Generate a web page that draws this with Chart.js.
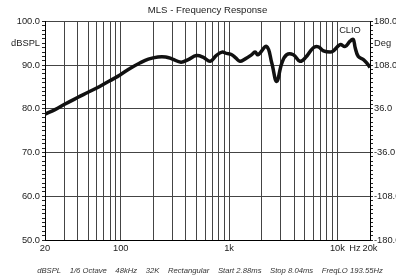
<!DOCTYPE html>
<html>
<head>
<meta charset="utf-8">
<script src="https://cdn.jsdelivr.net/npm/chart.js@4"></script>
<style>
  html, body { margin: 0; padding: 0; background: #fff; }
  #wrap { width: 396px; height: 276px; }
</style>
</head>
<body>
<div id="wrap"><canvas id="fr"></canvas></div>
<script>
// frequency response (Hz, dBSPL)
const freqHz = [20, 25, 30, 40, 50, 60, 70, 80, 90, 100, 125, 150, 180, 220, 260, 300, 360, 420, 500, 580, 670, 760, 860, 950,
  1060, 1160, 1260, 1400, 1600, 1740, 1850, 2220, 2480, 2750, 3070, 3400, 3920, 4520, 5100, 6000, 6680, 7430, 8560, 9190,
  10600, 11800, 13100, 14000, 14600, 15600, 17400, 18700, 20000];
const splDb = [78.8, 79.9, 81.0, 82.6, 83.8, 84.8, 85.7, 86.5, 87.2, 87.9, 89.4, 90.5, 91.4, 91.9, 91.9, 91.4, 90.7, 91.3, 92.2, 91.8, 90.9, 92.2, 93.0, 92.7,
  92.4, 91.6, 90.9, 91.4, 92.3, 93.0, 92.4, 94.3, 90.5, 86.3, 90.5, 92.4, 92.4, 90.9, 91.8, 94.0, 94.2, 93.3, 93.0, 93.3,
  94.7, 94.3, 95.5, 95.9, 94.0, 92.0, 91.3, 90.5, 89.5];

// x axis grid / labels
const xTicks = [20, 30, 40, 50, 60, 70, 80, 90, 100, 200, 300, 400, 500, 600, 700, 800, 900,
  1000, 2000, 3000, 4000, 5000, 6000, 7000, 8000, 9000, 10000, 14500, 20000];
const xLabels = {20: '20', 100: '100', 1000: '1k', 10000: '10k', 14500: 'Hz', 20000: '20k'};

// left (dBSPL) and right (Deg) axis labels, keyed by dB position
const leftLabels = {100: '100.0', 95: 'dBSPL', 90: '90.0', 80: '80.0', 70: '70.0', 60: '60.0', 50: '50.0'};
const rightLabels = {100: '180.0', 95: 'Deg', 90: '108.0', 80: '36.0', 70: '-36.0', 60: '-108.0', 50: '-180.0'};

const titleText = 'MLS - Frequency Response';
const footerText = 'dBSPL    1/6 Octave    48kHz    32K    Rectangular    Start 2.88ms    Stop 8.04ms    FreqLO 193.55Hz';
const brandText = 'CLIO';

const points = freqHz.map((f, i) => ({x: f, y: splDb[i]}));

// CLIO stamp inside the plot + measurement info line under the axis
const textPlugin = {
  id: 'extraText',
  afterDatasetsDraw(chart) {
    const a = chart.chartArea;
    const c = chart.ctx;
    c.save();
    c.font = '9.3px "Liberation Sans", Arial, sans-serif';
    c.fillStyle = '#222';
    c.textAlign = 'center';
    c.textBaseline = 'middle';
    c.fillText(brandText, a.right - 20, a.top + 9);
    c.font = 'italic 7.7px "Liberation Sans", Arial, sans-serif';
    c.fillStyle = '#333';
    c.fillText(footerText, 210, 270.5);
    c.restore();
  }
};

const tickFont = {family: '"Liberation Sans", Arial, sans-serif', size: 9.3};

const yGrid = {
  color: ctx => (ctx.tick && ctx.tick.value % 10 === 0) ? '#444' : 'rgba(0,0,0,0)',
  tickColor: '#222',
  tickLength: 3,
  lineWidth: 1
};

new Chart(document.getElementById('fr'), {
  type: 'line',
  data: {
    datasets: [{
      label: 'SPL',
      data: points,
      borderColor: '#111',
      borderWidth: 3.5,
      pointRadius: 0,
      tension: 0.4,
      fill: false
    }]
  },
  plugins: [textPlugin],
  options: {
    responsive: true,
    maintainAspectRatio: false,
    animation: false,
    layout: {padding: {left: 0, right: 0, top: 0, bottom: 10}},
    plugins: {
      legend: {display: false},
      tooltip: {enabled: false},
      title: {
        display: true,
        text: titleText,
        fullSize: false,
        color: '#222',
        font: {family: '"Liberation Sans", Arial, sans-serif', size: 9.6, weight: 'normal'},
        padding: {top: 5, bottom: 5}
      }
    },
    scales: {
      x: {
        type: 'logarithmic',
        min: 20,
        max: 20000,
        afterBuildTicks: s => { s.ticks = xTicks.map(v => ({value: v})); },
        afterFit: s => { s.height = 26; },
        grid: {
          color: ctx => (ctx.tick && ctx.tick.value === 14500) ? 'rgba(0,0,0,0)' : '#444',
          drawTicks: false,
          lineWidth: 1
        },
        border: {color: '#000'},
        ticks: {
          autoSkip: false,
          maxRotation: 0,
          padding: 3,
          color: '#222',
          font: tickFont,
          callback: v => xLabels[v] || ''
        }
      },
      y: {
        position: 'left',
        min: 50,
        max: 100,
        afterBuildTicks: s => { s.ticks = []; for (let v = 50; v <= 100; v++) s.ticks.push({value: v}); },
        afterFit: s => { s.width = 45; },
        grid: yGrid,
        border: {color: '#000'},
        ticks: {
          autoSkip: false,
          padding: 2,
          color: '#222',
          font: tickFont,
          callback: v => leftLabels[v] || ''
        }
      },
      y2: {
        position: 'right',
        min: 50,
        max: 100,
        afterBuildTicks: s => { s.ticks = []; for (let v = 50; v <= 100; v++) s.ticks.push({value: v}); },
        afterFit: s => { s.width = 26; },
        grid: {
          drawOnChartArea: false,
          tickColor: '#222',
          tickLength: 3
        },
        border: {color: '#000'},
        ticks: {
          autoSkip: false,
          crossAlign: 'near',
          padding: 1,
          color: '#222',
          font: tickFont,
          callback: v => rightLabels[v] || ''
        }
      }
    }
  }
});
</script>
</body>
</html>
